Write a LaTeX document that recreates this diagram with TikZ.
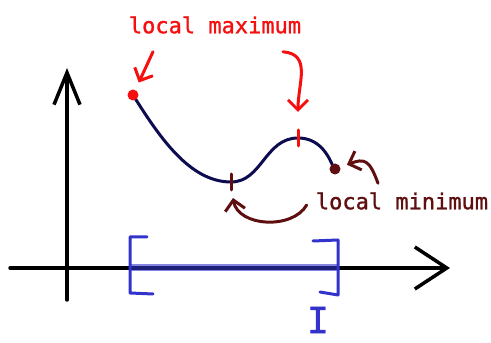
\documentclass[tikz,border=0pt]{standalone}
\usepackage{fontspec}
\newfontfamily\handfont[FakeBold=1.2]{DejaVu Sans Mono}
\usetikzlibrary{positioning,arrows.meta}
\definecolor{maxred}{RGB}{245,15,15}
\definecolor{minbrown}{RGB}{95,15,15}
\definecolor{curvenavy}{RGB}{12,12,80}
\definecolor{intblue}{RGB}{50,50,205}

\begin{document}
\begin{tikzpicture}[
  x=1pt, y=1pt,
  line cap=round, line join=round,
  axis/.style={line width=3.5pt, black},
  label/.style={font=\handfont\fontsize{22}{26}\selectfont, inner sep=1pt},
  arrow/.style={-{Straight Barb[length=10pt,width=20pt]}, line width=3pt},
  dot/.style={circle, fill, inner sep=0pt, minimum size=11pt},
  tick/.style={line width=3pt},
  bracket/.style={line width=3pt, intblue}
]
\useasboundingbox (0,0) rectangle (491,343);

% Axes
\coordinate (ybot) at (67,43);
\coordinate (ytop) at (67,275);
\coordinate (xleft) at (10,75);
\coordinate (xright) at (450,75);
\draw[axis, -{Straight Barb[length=32pt,width=26pt]}] (ybot) -- (ytop);
\draw[axis, -{Straight Barb[length=32pt,width=42pt]}] (xleft) -- (xright);

% Interval I on the x axis
\coordinate (lbr) at (130,75);
\coordinate (rbr) at (338,75);
\draw[intblue, line width=7pt, opacity=0.6, line cap=butt] (lbr) -- (rbr);
\draw[bracket] (147,106) -- (130,106) -- (130,50) -- (153,49);
\draw[bracket] (313,102) -- (338,103) -- (338,48) -- (320,51);
\node[font=\handfont\fontsize{36}{38}\selectfont, intblue, inner sep=0pt] (intlabel) at (318,23) {I};

% The function
\coordinate (minpt) at (231,161);
\coordinate (maxpt) at (298,205);
\draw[line width=3pt, curvenavy] (133,248) .. controls (160,205) and (190,161) .. (minpt)
  .. controls (262,161) and (265,205) .. (maxpt)
  .. controls (318,205) and (328,190) .. (334,174);
\node[dot, maxred] (maxdot) at (133,248) {};
\node[dot, minbrown] (mindot) at (335,174) {};
\draw[tick, minbrown] ([yshift=-8pt]minpt) -- ([yshift=8pt]minpt);
\draw[tick, maxred] ([yshift=-8pt]maxpt) -- ([yshift=8pt]maxpt);

% Labels
\node[label, maxred] (lmax) at (215,318) {local maximum};
\node[label, minbrown] (lmin) at (402,142) {local minimum};

% Arrows from the labels
\draw[arrow, maxred, shorten >=8pt] ([xshift=-62pt,yshift=-17pt]lmax.south) -- (maxdot);
\draw[arrow, maxred] ([xshift=68pt,yshift=-17pt]lmax.south) to[out=-5, in=90, looseness=1.2] ([yshift=26pt]maxpt);
\draw[arrow, minbrown, shorten >=7pt] ([xshift=-24pt,yshift=8pt]lmin.north) to[out=110, in=20, looseness=1.6] (mindot);
\draw[arrow, minbrown] ([xshift=-8pt,yshift=-4pt]lmin.west) to[out=-120, in=-80] ([xshift=2pt,yshift=-16pt]minpt);

\end{tikzpicture}
\end{document}
